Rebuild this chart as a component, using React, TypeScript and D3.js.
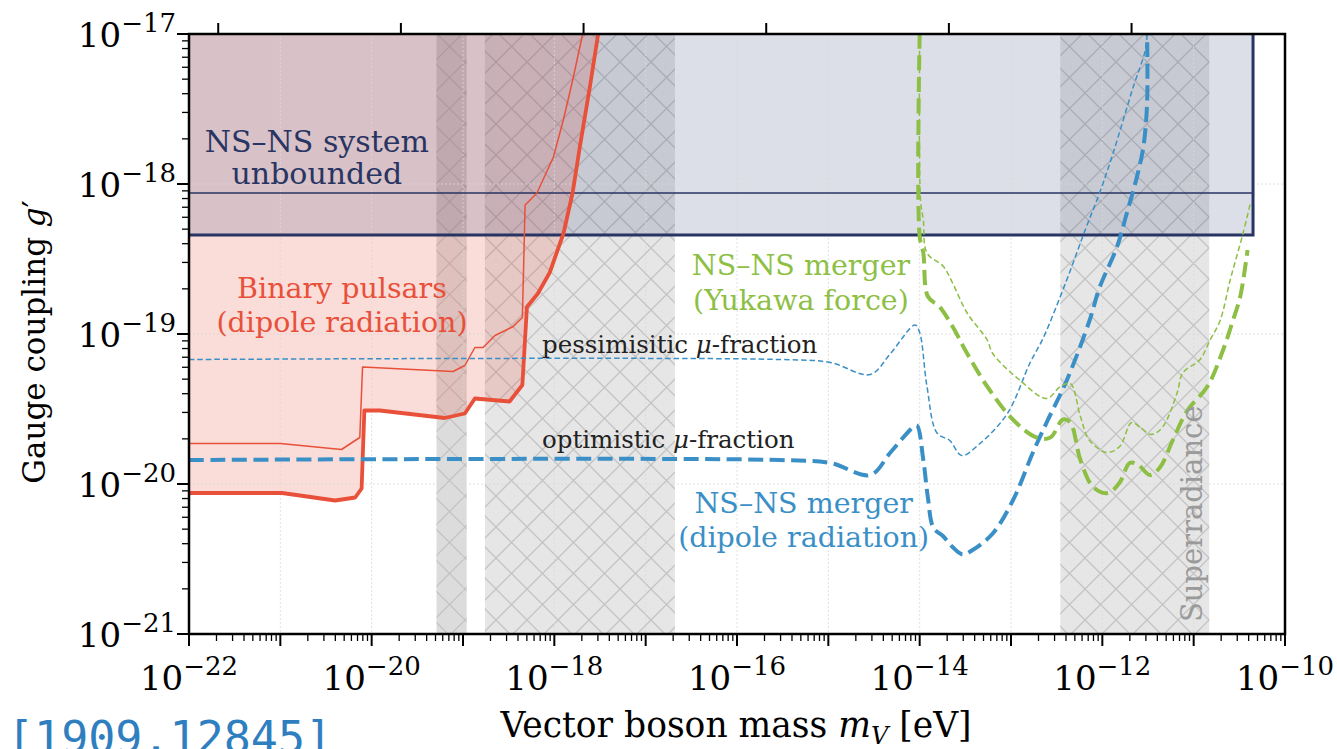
import * as d3 from "d3";
import { useEffect, useRef } from "react";

// all values are log10: mass m_V [eV] on x, coupling g' on y
const xDecades = [-22, -21, -20, -19, -18, -17, -16, -15, -14, -13, -12, -11, -10];
const xLabelDecades = [-22, -20, -18, -16, -14, -12, -10];
const yDecades = [-21, -20, -19, -18, -17];
const topAxisTicks = [-21.68, -19.68, -17.68, -15.68, -13.68, -11.68];

// NS-NS system unbounded box
const nsBox = { right: -10.35, bottom: -18.34, line: -18.06 };

// excluded (hatched) mass windows
const bands = [
    { from: -19.29, to: -18.96, shade: "#dcdcdc" },
    { from: -18.76, to: -16.68, shade: "#e6e6e6" },
    { from: -12.46, to: -10.83, shade: "#e6e6e6" },
];

const pulsarThick: [number, number][] = [
    [-22, -20.06], [-20.98, -20.06], [-20.4, -20.11], [-20.18, -20.09], [-20.11, -20.03],
    [-20.08, -19.51], [-19.91, -19.51], [-19.2, -19.56], [-18.98, -19.53], [-18.87, -19.43],
    [-18.49, -19.45], [-18.35, -19.34], [-18.3, -18.82], [-18.18, -18.73], [-18.05, -18.59],
    [-17.9, -18.33], [-17.8, -18.06], [-17.72, -17.75], [-17.61, -17.35], [-17.52, -17.0],
];

const pulsarThin: [number, number][] = [
    [-22, -19.73], [-21.0, -19.73], [-20.33, -19.77], [-20.13, -19.69], [-20.1, -19.22],
    [-19.77, -19.23], [-19.11, -19.25], [-18.98, -19.21], [-18.87, -19.09], [-18.78, -19.09],
    [-18.65, -19.01], [-18.45, -18.95], [-18.35, -18.89], [-18.32, -18.14], [-18.19, -18.06],
    [-18.01, -17.82], [-17.9, -17.57], [-17.8, -17.31], [-17.69, -17.0],
];

const mergerPessimistic: [number, number][] = [
    [-22, -19.17], [-15.53, -19.17], [-14.98, -19.19], [-14.54, -19.27], [-14.32, -19.13],
    [-14.05, -18.94], [-14.0, -18.99], [-13.92, -19.35], [-13.81, -19.66], [-13.67, -19.71],
    [-13.54, -19.81], [-13.34, -19.73], [-13.04, -19.53], [-12.79, -19.19], [-12.65, -19.03],
    [-12.39, -18.64], [-12.19, -18.31], [-12.03, -18.06], [-11.88, -17.79], [-11.66, -17.35],
    [-11.53, -17.11], [-11.51, -17.0],
];

const mergerOptimistic: [number, number][] = [
    [-22, -19.84], [-15.53, -19.84], [-14.98, -19.86], [-14.54, -19.94], [-14.32, -19.79],
    [-14.07, -19.62], [-14.03, -19.61], [-13.96, -19.84], [-13.91, -20.09], [-13.85, -20.29],
    [-13.74, -20.35], [-13.64, -20.42], [-13.53, -20.47], [-13.42, -20.44], [-13.2, -20.33],
    [-12.98, -20.11], [-12.76, -19.79], [-12.61, -19.59], [-12.39, -19.31], [-12.14, -18.91],
    [-12.03, -18.69], [-11.84, -18.42], [-11.73, -18.19], [-11.62, -17.95], [-11.55, -17.75],
    [-11.51, -17.46], [-11.51, -17.0],
];

const yukawaStrong: [number, number][] = [
    [-14.0, -17.0], [-14.0, -18.35], [-13.96, -18.46], [-13.91, -18.75], [-13.78, -18.82],
    [-13.64, -18.95], [-13.48, -19.13], [-13.26, -19.35], [-12.98, -19.57], [-12.72, -19.69],
    [-12.57, -19.69], [-12.43, -19.57], [-12.35, -19.59], [-12.24, -19.84], [-12.1, -20.02],
    [-11.94, -20.06], [-11.81, -19.99], [-11.7, -19.86], [-11.61, -19.87], [-11.48, -19.94],
    [-11.37, -19.89], [-11.23, -19.71], [-11.07, -19.51], [-10.85, -19.35], [-10.68, -19.11],
    [-10.57, -18.91], [-10.49, -18.75], [-10.41, -18.44],
];

const yukawaWeak: [number, number][] = [
    [-14.0, -17.0], [-13.99, -18.11], [-13.96, -18.24], [-13.92, -18.46], [-13.74, -18.55],
    [-13.64, -18.66], [-13.48, -18.86], [-13.26, -19.04], [-13.2, -19.13], [-12.9, -19.31],
    [-12.61, -19.43], [-12.46, -19.35], [-12.35, -19.33], [-12.24, -19.55], [-12.14, -19.71],
    [-11.95, -19.79], [-11.81, -19.75], [-11.68, -19.59], [-11.59, -19.62], [-11.46, -19.67],
    [-11.34, -19.62], [-11.18, -19.39], [-11.12, -19.26], [-10.93, -19.17], [-10.82, -19.04],
    [-10.71, -18.91], [-10.6, -18.64], [-10.46, -18.33], [-10.38, -18.13],
];

const SERIF = "DejaVu Serif";
const RED = "#e8503a";
const BLUE = "#3a8fc6";
const GREEN = "#8dbf45";
const NAVY = "#283562";

export default function App() {
    const ref = useRef<SVGSVGElement>(null);
    const width = 1337,
        height = 749;

    useEffect(() => {
        const svg = d3.select(ref.current);
        svg.selectAll("*").remove();

        const x = d3.scaleLog().domain([1e-22, 1e-10]).range([189, 1285]);
        const y = d3.scaleLog().domain([1e-21, 1e-17]).range([634, 34]);
        const px = (e: number) => x(Math.pow(10, e));
        const py = (e: number) => y(Math.pow(10, e));
        const [x0, x1] = x.range();
        const [y1, y0] = y.range();

        const defs = svg.append("defs");
        defs.append("clipPath").attr("id", "plot")
            .append("rect").attr("x", x0).attr("y", y0).attr("width", x1 - x0).attr("height", y1 - y0);
        const p = 31;
        defs.append("pattern")
            .attr("id", "xhatch")
            .attr("patternUnits", "userSpaceOnUse")
            .attr("width", p)
            .attr("height", p)
            .append("path")
            .attr("d", `M-4,-4L${p + 4},${p + 4}M${p + 4},-4L-4,${p + 4}`)
            .attr("stroke", "#c3c3c3")
            .attr("stroke-width", 1.3);

        const g = svg.append("g").attr("clip-path", "url(#plot)");

        // hatched bands
        bands.forEach((b) => {
            g.append("rect")
                .attr("x", px(b.from)).attr("width", px(b.to) - px(b.from))
                .attr("y", y0).attr("height", y1 - y0)
                .attr("fill", b.shade);
            g.append("rect")
                .attr("x", px(b.from)).attr("width", px(b.to) - px(b.from))
                .attr("y", y0).attr("height", y1 - y0)
                .attr("fill", "url(#xhatch)");
        });

        // binary pulsar excluded region
        const area = d3.area<[number, number]>()
            .x((d) => px(d[0]))
            .y0(py(-17))
            .y1((d) => py(d[1]));
        g.append("path").datum(pulsarThick).attr("d", area)
            .attr("fill", RED).attr("fill-opacity", 0.2);

        // NS-NS system unbounded
        g.append("rect")
            .attr("x", x0).attr("y", y0)
            .attr("width", px(nsBox.right) - x0)
            .attr("height", py(nsBox.bottom) - y0)
            .attr("fill", "#2b3a6e").attr("fill-opacity", 0.16);

        // grid
        g.selectAll(".gx").data(xDecades).join("line")
            .attr("x1", (d) => px(d)).attr("x2", (d) => px(d))
            .attr("y1", y0).attr("y2", y1)
            .attr("stroke", "#d8d8d8").attr("stroke-width", 0.8).attr("stroke-dasharray", "2,2");
        g.selectAll(".gy").data(yDecades).join("line")
            .attr("x1", x0).attr("x2", x1)
            .attr("y1", (d) => py(d)).attr("y2", (d) => py(d))
            .attr("stroke", "#d8d8d8").attr("stroke-width", 0.8).attr("stroke-dasharray", "2,2");

        g.append("line")
            .attr("x1", x0).attr("x2", px(nsBox.right))
            .attr("y1", py(nsBox.line)).attr("y2", py(nsBox.line))
            .attr("stroke", NAVY).attr("stroke-width", 1.5);
        g.append("path")
            .attr("d", `M${x0},${py(nsBox.bottom)}H${px(nsBox.right)}V${y0}`)
            .attr("fill", "none").attr("stroke", NAVY).attr("stroke-width", 3);

        const straight = d3.line<[number, number]>().x((d) => px(d[0])).y((d) => py(d[1]));
        const smooth = d3.line<[number, number]>()
            .x((d) => px(d[0])).y((d) => py(d[1]))
            .curve(d3.curveCatmullRom.alpha(0.5));

        const curves = [
            { data: pulsarThin, gen: straight, color: RED, w: 1.5, dash: null },
            { data: pulsarThick, gen: straight, color: RED, w: 3.8, dash: null },
            { data: mergerPessimistic, gen: smooth, color: BLUE, w: 1.5, dash: "5.5,3" },
            { data: mergerOptimistic, gen: smooth, color: BLUE, w: 4, dash: "15,6.5" },
            { data: yukawaWeak, gen: smooth, color: GREEN, w: 1.5, dash: "5.5,3" },
            { data: yukawaStrong, gen: smooth, color: GREEN, w: 4, dash: "15,6.5" },
        ];
        curves.forEach((c) => {
            g.append("path").datum(c.data)
                .attr("d", c.gen as any)
                .attr("fill", "none")
                .attr("stroke", c.color)
                .attr("stroke-width", c.w)
                .attr("stroke-linejoin", "round")
                .attr("stroke-dasharray", c.dash);
        });

        // annotations
        const note = (lines: string[], xe: number, ye: number[], color: string, size: number, anchor = "middle") => {
            lines.forEach((t, i) => {
                svg.append("text")
                    .attr("x", px(xe)).attr("y", py(ye[i]))
                    .attr("text-anchor", anchor)
                    .attr("fill", color)
                    .style("font-family", SERIF)
                    .style("font-size", `${size}px`)
                    .text(t);
            });
        };
        note(["NS–NS system", "unbounded"], -20.6, [-17.787, -18.0], NAVY, 30);
        note(["Binary pulsars", "(dipole radiation)"], -20.325, [-18.76, -18.987], RED, 28.5);
        note(["NS–NS merger", "(Yukawa force)"], -15.3, [-18.607, -18.84], GREEN, 28.5);
        note(["NS–NS merger", "(dipole radiation)"], -15.27, [-20.193, -20.42], BLUE, 28.5);

        const muNote = (word: string, ye: number) => {
            const t = svg.append("text")
                .attr("x", px(-18.135)).attr("y", py(ye))
                .attr("fill", "#222")
                .style("font-family", SERIF)
                .style("font-size", "24.5px");
            t.append("tspan").text(word + " ");
            t.append("tspan").style("font-style", "italic").text("μ");
            t.append("tspan").text("-fraction");
        };
        muNote("pessimisitic", -19.127);
        muNote("optimistic", -19.76);

        svg.append("text")
            .attr("transform", `translate(${px(-10.908)},${py(-20.92)}) rotate(-90)`)
            .attr("fill", "#9a9a9a")
            .style("font-family", SERIF)
            .style("font-size", "29px")
            .text("Superradiance");

        // frame
        svg.append("rect")
            .attr("x", x0).attr("y", y0).attr("width", x1 - x0).attr("height", y1 - y0)
            .attr("fill", "none").attr("stroke", "#000").attr("stroke-width", 2.5);

        // ticks
        const minors = (decs: number[]) =>
            decs.slice(0, -1).flatMap((d) => d3.range(2, 10).map((k) => d + Math.log10(k)));
        const ticks = svg.append("g").attr("stroke", "#000");
        ticks.selectAll(".xM").data(xDecades).join("line")
            .attr("x1", (d) => px(d)).attr("x2", (d) => px(d))
            .attr("y1", y1).attr("y2", y1 + 12).attr("stroke-width", 2);
        ticks.selectAll(".xm").data(minors(xDecades)).join("line")
            .attr("x1", (d) => px(d)).attr("x2", (d) => px(d))
            .attr("y1", y1).attr("y2", y1 + 7).attr("stroke-width", 1.3);
        ticks.selectAll(".yM").data(yDecades).join("line")
            .attr("x1", x0 - 12).attr("x2", x0)
            .attr("y1", (d) => py(d)).attr("y2", (d) => py(d)).attr("stroke-width", 2);
        ticks.selectAll(".ym").data(minors(yDecades)).join("line")
            .attr("x1", x0 - 7).attr("x2", x0)
            .attr("y1", (d) => py(d)).attr("y2", (d) => py(d)).attr("stroke-width", 1.3);
        ticks.selectAll(".tM").data(topAxisTicks).join("line")
            .attr("x1", (d) => px(d)).attr("x2", (d) => px(d))
            .attr("y1", y0 - 11).attr("y2", y0).attr("stroke-width", 2);

        const powLabel = (sel: d3.Selection<SVGTextElement, number, any, any>) => {
            sel.append("tspan").text("10");
            sel.append("tspan").attr("dy", -15).style("font-size", "26px").text((d) => `−${-d}`);
        };
        svg.selectAll(".xl").data(xLabelDecades).join("text")
            .attr("x", (d) => px(d)).attr("y", y1 + 56)
            .attr("text-anchor", "middle")
            .style("font-family", SERIF).style("font-size", "34px")
            .call(powLabel as any);
        svg.selectAll(".yl").data(yDecades).join("text")
            .attr("x", x0 - 13).attr("y", (d) => py(d) + 12.5)
            .attr("text-anchor", "end")
            .style("font-family", SERIF).style("font-size", "34px")
            .call(powLabel as any);

        // axis titles
        const xt = svg.append("text")
            .attr("x", (x0 + x1) / 2 - 1).attr("y", 737)
            .attr("text-anchor", "middle")
            .style("font-family", SERIF).style("font-size", "34.5px");
        xt.append("tspan").text("Vector boson mass ");
        xt.append("tspan").style("font-style", "italic").text("m");
        xt.append("tspan").attr("dy", 7).style("font-size", "24px").style("font-style", "italic").text("V");
        xt.append("tspan").attr("dy", -7).text(" [eV]");

        const yt = svg.append("text")
            .attr("transform", `translate(45,${(y0 + y1) / 2 + 8}) rotate(-90)`)
            .attr("text-anchor", "middle")
            .style("font-family", SERIF).style("font-size", "31px");
        yt.append("tspan").text("Gauge coupling ");
        yt.append("tspan").style("font-style", "italic").text("g");
        yt.append("tspan").text("′");

        svg.append("text")
            .attr("x", 7).attr("y", 753)
            .attr("fill", "#2f7fc0")
            .style("font-family", "DejaVu Sans Mono")
            .style("font-size", "45px")
            .text("[1909.12845]");
    }, []);

    return (
        <div style={{ position: "fixed", left: 0, top: 0, background: "#fff" }}>
            <svg ref={ref} width={width} height={height} style={{ display: "block" }}></svg>
        </div>
    );
}
